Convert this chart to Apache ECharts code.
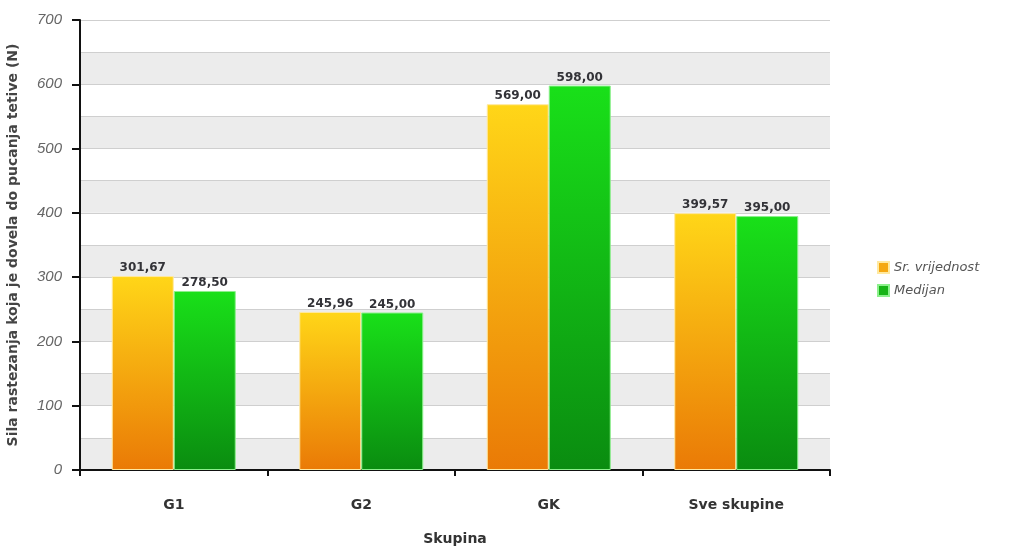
<!DOCTYPE html>
<html>
<head>
<meta charset="utf-8">
<script src="https://cdn.jsdelivr.net/npm/echarts@6/dist/echarts.min.js"></script>
<style>html,body{margin:0;padding:0;background:#fff}#c{width:1009px;height:546px}</style>
</head>
<body>
<div id="c"></div>
<script>
const categories = ['G1', 'G2', 'GK', 'Sve skupine'];
const meanValues = [301.67, 245.96, 569.00, 399.57];
const medianValues = [278.50, 245.00, 598.00, 395.00];
const seriesNames = ['Sr. vrijednost', 'Medijan'];
const yTicks = [0, 100, 200, 300, 400, 500, 600, 700];

const chart = echarts.init(document.getElementById('c'));
const fmt = v => v.toFixed(2).replace('.', ',');
const orangeGrad = new echarts.graphic.LinearGradient(0, 0, 0, 1, [
  {offset: 0, color: '#ffd618'}, {offset: 1, color: '#ea7a06'}]);
const greenGrad = new echarts.graphic.LinearGradient(0, 0, 0, 1, [
  {offset: 0, color: '#19e019'}, {offset: 1, color: '#0a8c10'}]);
const labelStyle = {show: true, position: 'top', distance: 2, formatter: p => fmt(p.value),
  fontFamily: 'DejaVu Sans', fontWeight: 'bold', fontSize: 12, color: '#333338'};

chart.setOption({
  animation: false,
  backgroundColor: '#fff',
  grid: {left: 80, right: 179, top: 20, bottom: 76, containLabel: false, outerBoundsMode: 'none'},
  legend: {
    orient: 'vertical', left: 872, top: 256, itemWidth: 11, itemHeight: 11, itemGap: 10,
    icon: 'rect',
    textStyle: {fontFamily: 'DejaVu Sans', fontStyle: 'italic', fontSize: 13, color: '#555'},
    data: [{name: seriesNames[0], itemStyle: {color: '#f5a812'}}, {name: seriesNames[1], itemStyle: {color: '#16b416'}}]
  },
  xAxis: {
    type: 'category', data: categories,
    name: 'Skupina', nameLocation: 'middle', nameGap: 62,
    nameTextStyle: {fontFamily: 'DejaVu Sans', fontWeight: 'bold', fontSize: 14, color: '#333'},
    axisLine: {lineStyle: {color: '#111', width: 2}},
    axisTick: {show: true, length: 6, lineStyle: {color: '#111', width: 2}},
    axisLabel: {margin: 28, fontFamily: 'DejaVu Sans', fontWeight: 'bold', fontSize: 14, color: '#333'}
  },
  yAxis: [{
    type: 'value', min: yTicks[0], max: yTicks[yTicks.length - 1], interval: 100,
    name: 'Sila rastezanja koja je dovela do pucanja tetive (N)',
    nameLocation: 'middle', nameGap: 60,
    nameTextStyle: {fontFamily: 'DejaVu Sans', fontWeight: 'bold', fontSize: 14, color: '#444'},
    axisLine: {show: true, lineStyle: {color: '#111', width: 2}},
    axisTick: {show: true, length: 8, lineStyle: {color: '#111', width: 2}},
    axisLabel: {margin: 18, fontFamily: 'Liberation Sans', fontStyle: 'italic', fontSize: 15, color: '#666'},
    splitLine: {show: false}
  }, {
    type: 'value', min: 0, max: 700, interval: 50, position: 'left',
    axisLine: {show: false}, axisTick: {show: false}, axisLabel: {show: false},
    splitLine: {show: true, lineStyle: {color: '#cfcfcf', width: 1}},
    splitArea: {show: true, areaStyle: {color: ['#ececec', '#ffffff']}}
  }],
  series: [{
    name: seriesNames[0], type: 'bar', data: meanValues, barWidth: 62, barGap: '0%',
    itemStyle: {color: orangeGrad, borderColor: '#ffe9a0', borderWidth: 1}, label: labelStyle
  }, {
    name: seriesNames[1], type: 'bar', data: medianValues, barWidth: 62,
    itemStyle: {color: greenGrad, borderColor: '#8cf08c', borderWidth: 1}, label: labelStyle
  }]
});
</script>
</body>
</html>
